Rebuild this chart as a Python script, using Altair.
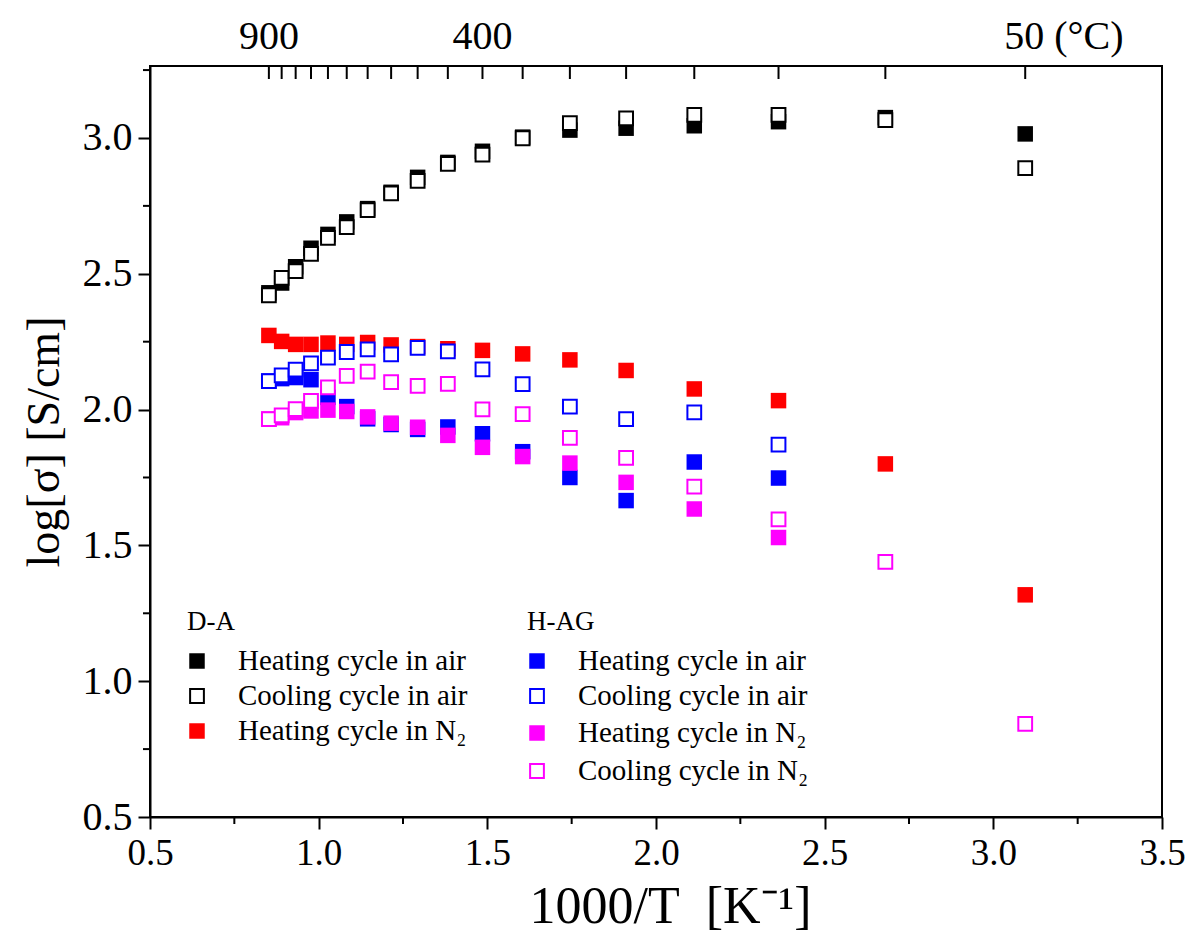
import altair as alt
import pandas as pd

# ---- data ----
temps_c = [900, 850, 800, 750, 700, 650, 600, 550, 500, 450, 400, 350, 300, 250, 200, 150, 100, 50]
x_vals = [0.8524, 0.8903, 0.9318, 0.9773, 1.0275, 1.0832, 1.1452, 1.2148, 1.2934, 1.3829,
          1.4856, 1.6047, 1.7447, 1.9114, 2.1135, 2.3632, 2.6799, 3.0945]

da_heat_air = [2.43, 2.466, 2.526, 2.594, 2.645, 2.691, 2.74, 2.80, 2.855, 2.91,
               2.951, 3.003, 3.029, 3.036, 3.045, 3.06, 3.075, 3.015]
da_cool_air = [2.421, 2.485, 2.51, 2.573, 2.632, 2.672, 2.734, 2.796, 2.842, 2.905,
               2.939, 2.999, 3.055, 3.072, 3.085, 3.085, 3.066, 2.889]
da_heat_n2 = [2.273, 2.251, 2.240, 2.240, 2.245, 2.240, 2.247, 2.238, 2.232, 2.224,
              2.218, 2.205, 2.183, 2.144, 2.076, 2.033, 1.800, 1.318]
hag_heat_air = [2.105, 2.114, 2.118, 2.11, 2.045, 2.011, 1.966, 1.945, 1.927, 1.936,
                1.911, 1.845, 1.750, 1.665, 1.807, 1.748]
hag_cool_air = [2.105, 2.126, 2.147, 2.17, 2.191, 2.212, 2.222, 2.203, 2.227, 2.214,
                2.148, 2.094, 2.011, 1.965, 1.990, 1.871]
hag_heat_n2 = [1.965, 1.97, 1.989, 1.995, 1.998, 1.993, 1.973, 1.95, 1.935, 1.905,
               1.861, 1.827, 1.803, 1.732, 1.634, 1.529]
hag_cool_n2 = [1.965, 1.979, 2.002, 2.032, 2.082, 2.124, 2.14, 2.101, 2.087, 2.095,
               2.001, 1.983, 1.896, 1.822, 1.716, 1.596, 1.439, 0.843]

top_labels = {900: "900", 400: "400"}
top_last_label = "50 (°C)"

x_ticks = [0.5, 1.0, 1.5, 2.0, 2.5, 3.0, 3.5]
x_minor = [0.75, 1.25, 1.75, 2.25, 2.75, 3.25]
y_ticks = [0.5, 1.0, 1.5, 2.0, 2.5, 3.0]
y_minor = [0.75, 1.25, 1.75, 2.25, 2.75, 3.25]

FONT = "Liberation Serif"
W, H = 1012, 751
XDOM = [0.5, 3.5]
YDOM = [0.5, 3.265]

BLACK, RED, BLUE, MAG = "#000000", "#FF0000", "#0000FF", "#FF00FF"
FILLED_SIZE = 240
OPEN_SIZE = 190

X_AXIS = alt.Axis(values=x_ticks, format=".1f", title="1000/T\u00a0\u00a0[K⁻¹]",
                  titleFontSize=52, titleFont=FONT, titleFontWeight="normal",
                  titlePadding=10, titleX=W / 2 + 14, labelFont=FONT, labelFontSize=37,
                  labelPadding=6, tickSize=12, tickWidth=2, tickColor="black",
                  domainColor="black", domainWidth=2, labelColor="black",
                  titleColor="black", grid=False, labelFlush=False)
Y_AXIS = alt.Axis(values=y_ticks, format=".1f", title="log[σ] [S/cm]",
                  titleFontSize=46, titleFont=FONT, titleFontWeight="normal",
                  titlePadding=14, labelFont=FONT, labelFontSize=40,
                  labelPadding=6, tickSize=12, tickWidth=2, tickColor="black",
                  domainColor="black", domainWidth=2, labelColor="black",
                  titleColor="black", grid=False, labelFlush=False)


def series(yv, color, filled):
    df = pd.DataFrame({"x": x_vals[:len(yv)], "y": yv})
    if filled:
        base = alt.Chart(df).mark_point(shape="square", filled=True, color=color,
                                        size=FILLED_SIZE, opacity=1, strokeWidth=0)
    else:
        base = alt.Chart(df).mark_point(shape="square", filled=True, fill="white",
                                        stroke=color, strokeWidth=2, size=OPEN_SIZE,
                                        opacity=1, fillOpacity=1, strokeOpacity=1)
    return base.encode(
        x=alt.X("x:Q", scale=alt.Scale(domain=XDOM, nice=False, zero=False), axis=X_AXIS),
        y=alt.Y("y:Q", scale=alt.Scale(domain=YDOM, nice=False, zero=False), axis=Y_AXIS),
    )


layers = [
    series(da_heat_air, BLACK, True),
    series(da_cool_air, BLACK, False),
    series(da_heat_n2, RED, True),
    series(hag_heat_air, BLUE, True),
    series(hag_heat_n2, MAG, True),
    series(hag_cool_air, BLUE, False),
    series(hag_cool_n2, MAG, False),
]

# minor ticks (outside the frame)
xm = pd.DataFrame({"x": x_minor})
layers.append(alt.Chart(xm).mark_rule(color="black", strokeWidth=2).encode(
    x="x:Q", y=alt.value(H), y2=alt.value(H + 7)))
ym = pd.DataFrame({"y": y_minor})
layers.append(alt.Chart(ym).mark_rule(color="black", strokeWidth=2).encode(
    y="y:Q", x=alt.value(0), x2=alt.value(-7)))

# top temperature axis (ticks pointing inward)
tt = pd.DataFrame({"x": x_vals, "t": temps_c})
layers.append(alt.Chart(tt).mark_rule(color="black", strokeWidth=2).encode(
    x="x:Q", y=alt.value(0), y2=alt.value(13)))
tl = pd.DataFrame({"x": [x_vals[temps_c.index(t)] for t in top_labels],
                   "lab": list(top_labels.values())})
layers.append(alt.Chart(tl).mark_text(font=FONT, fontSize=40, baseline="alphabetic",
                                      align="center", color="black").encode(
    x="x:Q", y=alt.value(-17), text="lab:N"))
tl2 = pd.DataFrame({"x": [x_vals[temps_c.index(50)]], "lab": [top_last_label]})
layers.append(alt.Chart(tl2).mark_text(font=FONT, fontSize=40, baseline="alphabetic",
                                       align="left", dx=-21, color="black").encode(
    x="x:Q", y=alt.value(-17), text="lab:N"))

# ---- legend (drawn manually, pixel positions inside the plot area) ----
one = pd.DataFrame({"a": [0]})
OY = 66  # top of the plot area in the page


def leg_text(txt, px, py, size=29):
    return alt.Chart(one).mark_text(font=FONT, fontSize=size, align="left",
                                    baseline="middle", color="black").encode(
        x=alt.value(px), y=alt.value(py - OY), text=alt.value(txt))


def leg_marker(px, py, color, filled):
    if filled:
        m = alt.Chart(one).mark_point(shape="square", filled=True, color=color,
                                      size=FILLED_SIZE, opacity=1, strokeWidth=0)
    else:
        m = alt.Chart(one).mark_point(shape="square", filled=True, fill="white",
                                      stroke=color, strokeWidth=2, size=OPEN_SIZE,
                                      opacity=1)
    return m.encode(x=alt.value(px), y=alt.value(py - OY))


legend_left = [("Heating cycle in air", BLACK, True, 661),
               ("Cooling cycle in air", BLACK, False, 696),
               ("Heating cycle in N₂", RED, True, 731)]
legend_right = [("Heating cycle in air", BLUE, True, 661),
                ("Cooling cycle in air", BLUE, False, 696),
                ("Heating cycle in N₂", MAG, True, 733),
                ("Cooling cycle in N₂", MAG, False, 771)]

layers.append(leg_text("D-A", 37, 622, 27))
for lab, col, fil, py in legend_left:
    layers.append(leg_marker(47, py, col, fil))
    layers.append(leg_text(lab, 88, py))
layers.append(leg_text("H-AG", 377, 622, 27))
for lab, col, fil, py in legend_right:
    layers.append(leg_marker(387, py, col, fil))
    layers.append(leg_text(lab, 428, py))

chart = alt.layer(*layers).properties(
    width=W, height=H,
    padding={"left": 150, "top": OY, "right": 38, "bottom": 132},
    autosize=alt.AutoSizeParams(type="none"),
    background="white",
).configure_view(stroke="black", strokeWidth=2)

chart.save("out.html", embed_options={"renderer": "svg", "actions": False})
